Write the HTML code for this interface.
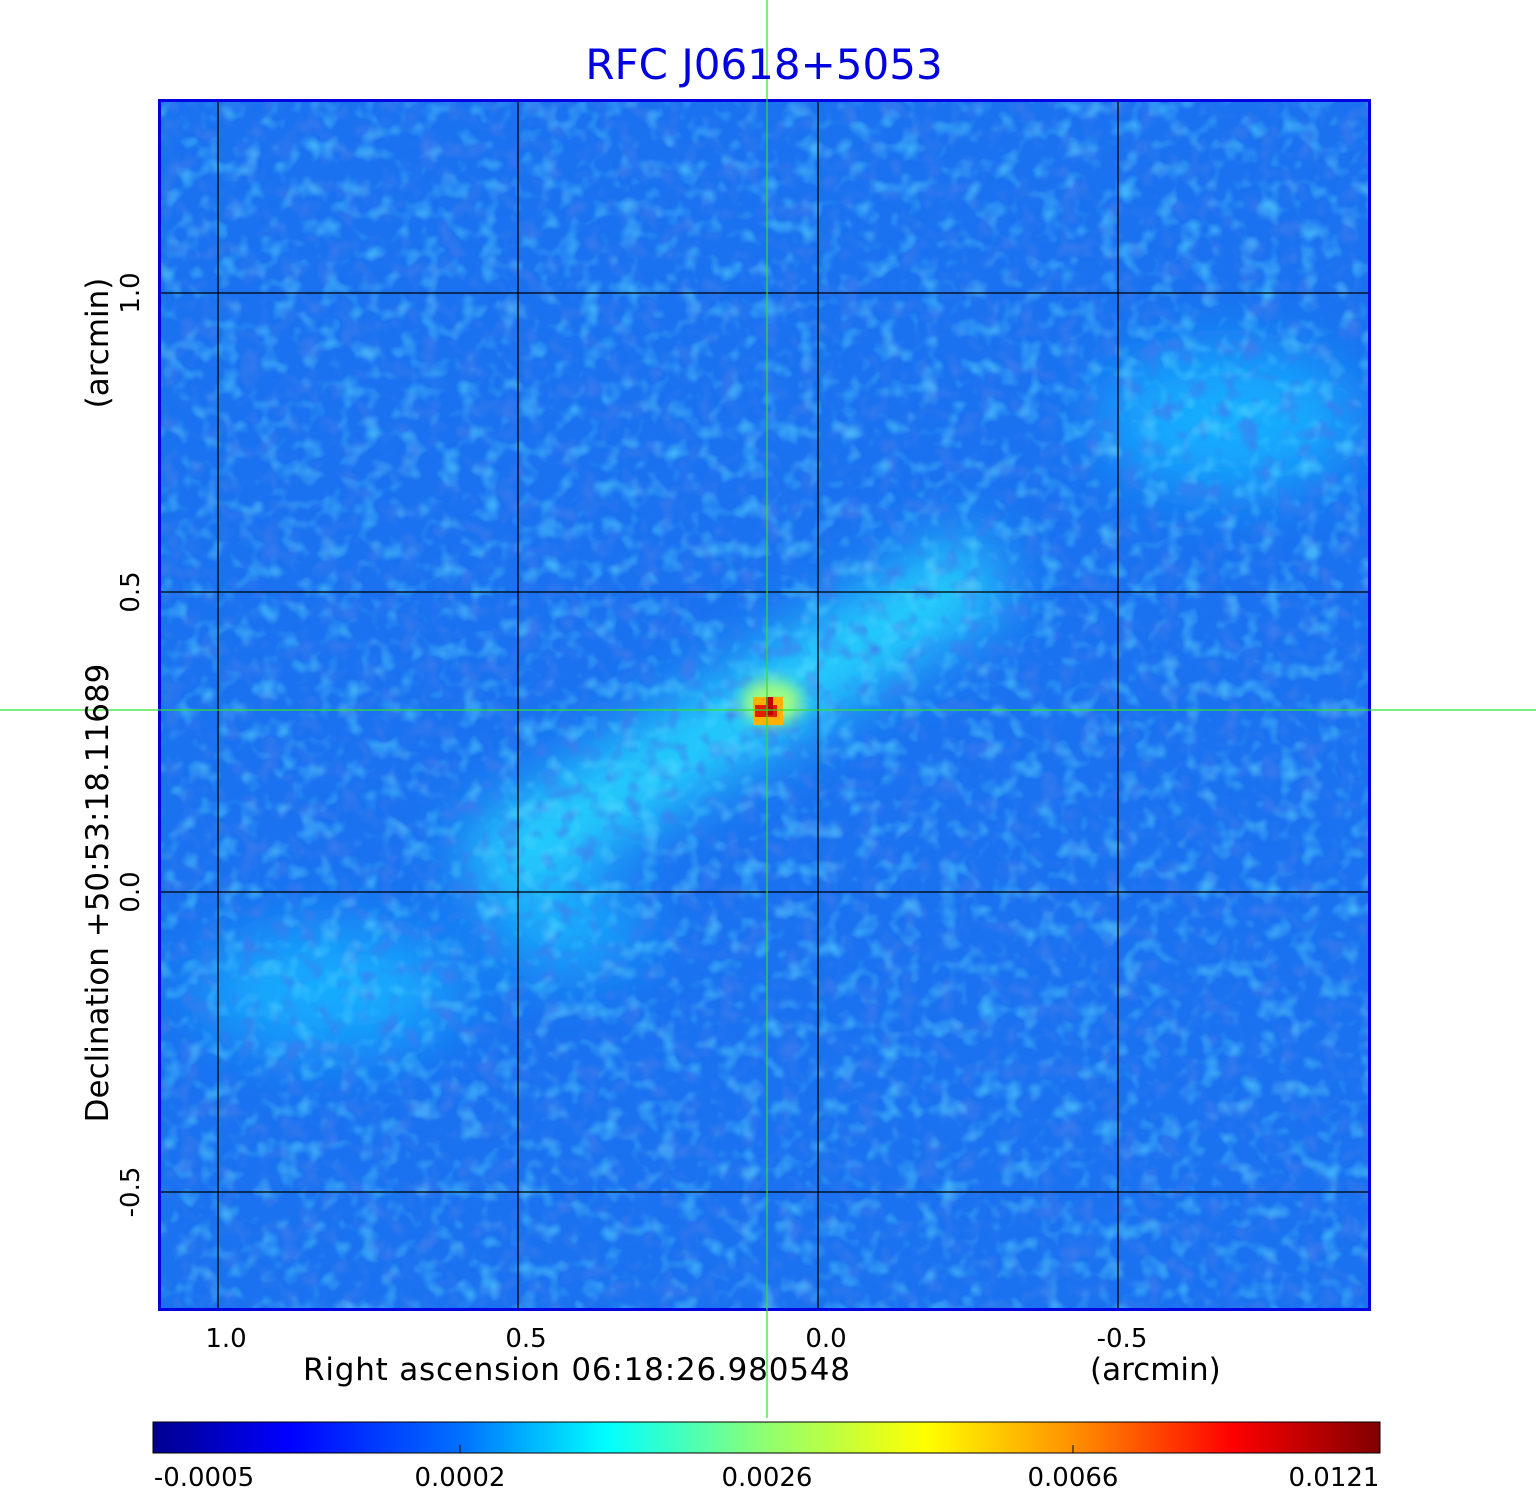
<!DOCTYPE html>
<html><head><style>
body{margin:0;width:1536px;height:1511px;background:#fff;overflow:hidden;font-family:"DejaVu Sans","Liberation Sans",sans-serif;}
</style></head><body>
<svg width="1536" height="1511" xmlns="http://www.w3.org/2000/svg" style="position:absolute;left:0;top:0">
<defs>
<filter id="b1" x="-50%" y="-50%" width="200%" height="200%"><feGaussianBlur stdDeviation="32"/></filter>
<filter id="b2" x="-50%" y="-50%" width="200%" height="200%"><feGaussianBlur stdDeviation="8"/></filter>
<filter id="noise1"><feTurbulence type="fractalNoise" baseFrequency="0.05" numOctaves="2" seed="3"/><feColorMatrix type="matrix" values="0 0 0 0 0.05  0 0 0 0 0.2  0 0 0 0 0.85  2.5 0 0 0 -1.2"/></filter>
<filter id="noise2"><feTurbulence type="fractalNoise" baseFrequency="0.05" numOctaves="2" seed="11"/><feColorMatrix type="matrix" values="0 0 0 0 0.1  0 0 0 0 0.7  0 0 0 0 1  2.5 0 0 0 -1.25"/></filter>
<linearGradient id="cb" x1="0" x2="1" y1="0" y2="0">
<stop offset="0" stop-color="#00008f"/><stop offset="0.11" stop-color="#0000ff"/><stop offset="0.25" stop-color="#0070ff"/><stop offset="0.37" stop-color="#00ffff"/><stop offset="0.5" stop-color="#90ff70"/><stop offset="0.63" stop-color="#ffff00"/><stop offset="0.75" stop-color="#ff9000"/><stop offset="0.88" stop-color="#ff0000"/><stop offset="1" stop-color="#800000"/>
</linearGradient>
<clipPath id="cp"><rect x="159" y="100" width="1211" height="1210"/></clipPath>
</defs>
<g clip-path="url(#cp)">
<rect x="159" y="100" width="1211" height="1210" fill="#1a72f0"/>
<g filter="url(#b1)" opacity="0.95">
<line x1="480" y1="875" x2="990" y2="565" stroke="#28e0ff" stroke-width="80"/>
<ellipse cx="330" cy="990" rx="130" ry="60" fill="#18b0ff"/>
<ellipse cx="1230" cy="420" rx="130" ry="70" fill="#18b0ff"/>
<ellipse cx="570" cy="930" rx="70" ry="40" fill="#18b8ff"/>
</g>
<rect x="159" y="100" width="1211" height="1210" filter="url(#noise1)" opacity="0.8"/>
<rect x="159" y="100" width="1211" height="1210" filter="url(#noise2)" opacity="0.6"/>
<g filter="url(#b2)"><ellipse cx="772" cy="702" rx="30" ry="22" fill="#a0ff80"/></g>
<rect x="753" y="697" width="30" height="28" fill="#ffb000"/>
<rect x="755" y="705" width="22" height="12" fill="#e02000"/>
<rect x="766" y="697" width="7" height="18" fill="#c00000"/>
<g stroke="#000" stroke-width="1.3">
<line x1="218" y1="100" x2="218" y2="1310"/><line x1="518" y1="100" x2="518" y2="1310"/><line x1="818" y1="100" x2="818" y2="1310"/><line x1="1118" y1="100" x2="1118" y2="1310"/>
<line x1="159" y1="293" x2="1370" y2="293"/><line x1="159" y1="592" x2="1370" y2="592"/><line x1="159" y1="892" x2="1370" y2="892"/><line x1="159" y1="1192" x2="1370" y2="1192"/>
</g>
</g>
<rect x="159.5" y="100.5" width="1210" height="1209" fill="none" stroke="#0000e0" stroke-width="3"/>
<rect x="153" y="1422" width="1227" height="31" fill="url(#cb)" stroke="#000" stroke-width="1"/>
<g stroke="#000"><line x1="460" y1="1445" x2="460" y2="1453"/><line x1="1073" y1="1445" x2="1073" y2="1453"/></g>
<line x1="767" y1="0" x2="767" y2="1418" stroke="#30e030" stroke-width="1.2"/>
<line x1="0" y1="710" x2="1536" y2="710" stroke="#30e030" stroke-width="1.2"/>
<text x="764" y="79" font-size="42" fill="#0000e0" text-anchor="middle">RFC J0618+5053</text>
<g font-size="26" fill="#000" text-anchor="middle">
<text x="226" y="1347">1.0</text><text x="526" y="1347">0.5</text><text x="826" y="1347">0.0</text><text x="1122" y="1347">-0.5</text>
<text x="204" y="1486">-0.0005</text><text x="460" y="1486">0.0002</text><text x="767" y="1486">0.0026</text><text x="1073" y="1486">0.0066</text><text x="1334" y="1486">0.0121</text>
<g transform="rotate(-90)">
<text x="-293" y="139">1.0</text><text x="-592" y="139">0.5</text><text x="-892" y="139">0.0</text><text x="-1192" y="139">-0.5</text>
</g>
</g>
<g font-size="31" fill="#000" xml:space="preserve">
<text x="303" y="1380" textLength="547">Right ascension  06:18:26.980548</text>
<text x="1090" y="1380">(arcmin)</text>
<g transform="rotate(-90)" text-anchor="middle">
<text x="-893" y="108">Declination  +50:53:18.11689</text>
<text x="-343" y="108">(arcmin)</text>
</g>
</g>
</svg>
</body></html>
